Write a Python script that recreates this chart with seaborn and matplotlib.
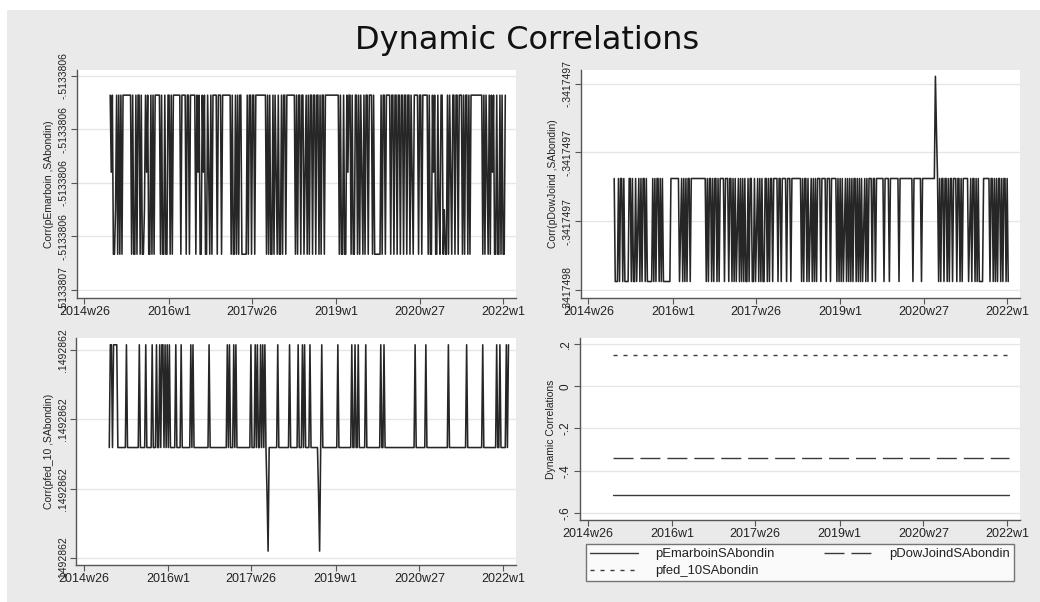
import numpy as np
import pandas as pd
import matplotlib
matplotlib.use("Agg")
import matplotlib.pyplot as plt
import seaborn as sns
from matplotlib.patches import Rectangle
from matplotlib.lines import Line2D

# ---------------- data ----------------
TITLE = "Dynamic Correlations"
X_TICK_LABELS = ["2014w26", "2016w1", "2017w26", "2019w1", "2020w27", "2022w1"]
START_WEEK = "2014w50"

# panel 1: Corr(pEmarboin ,SAbondin)  0 = low, 1 = high, 2/3 = in-between
P1_CODES = ("1210031010" "1011111111" "0100101101" "0031210010" "1011111010"
            "0100110101" "1111110111" "1011011111" "0121001210" "0120101111"
            "0111011111" "1110100101" "0110000010" "1101101111" "1111110101"
            "0010120100" "1011011111" "1110101101" "1021010110" "1101101011"
            "0111111111" "1111010010" "0121101001" "1010120101" "1011101000"
            "0001011011" "1101101101" "1011011011" "0120111101" "1011111010"
            "0121001301" "1030010120" "1101101110" "1011010111" "1111111101"
            "0120101210" "0100101001")
P1_LEVELS = {"0": -0.5133806833, "1": -0.5133806090,
             "2": -0.5133806450, "3": -0.5133806625}
P1_TICKS = [-0.51338070, -0.513380675, -0.51338065, -0.513380625, -0.51338060]
P1_TICK_LABELS = ["-.5133807", "-.5133806", "-.5133806", "-.5133806", "-.5133806"]
P1_YLABEL = "Corr(pEmarboin ,SAbondin)"

# panel 2: Corr(pDowJoind ,SAbondin)  0 = low, 1 = high, 4 = in-between, 2/3 = spike
P2_CODES = ("1000101101" "0000110100" "1041010110" "1000001010" "1101010000"
            "0001111111" "1041010101" "1011111111" "1111110101" "1010110101"
            "1110111011" "0101041010" "1010010110" "0104101010" "0110101101"
            "1110110111" "1011101111" "1111101011" "0104101010" "1110111101"
            "1101111101" "0101041010" "1010110101" "0104101011" "1011011111"
            "1101111011" "1111110111" "1111111110" "1111111011" "1111111111"
            "3210101101" "1010110111" "0110101111" "1041011010" "1000011111"
            "1011010101" "101011010")
P2_LEVELS = {"0": -0.3417497970, "1": -0.3417497595, "4": -0.3417497775,
             "2": -0.3417497425, "3": -0.3417497223}
P2_TICKS = [-0.34174980, -0.341749775, -0.34174975, -0.341749725]
P2_TICK_LABELS = ["-.3417498", "-.3417497", "-.3417497", "-.3417497"]
P2_YLABEL = "Corr(pDowJoind ,SAbondin)"

# panel 3: Corr(pfed_10 ,SAbondin)  2 = base, 3 = high, 1/0 = dips
P3_CODES = ("2332333322" "2222223222" "2222222232" "2222322222" "3222322323"
            "3232323222" "2232222322" "2222223232" "2222222222" "2223222222"
            "2222222222" "3232223232" "2222222222" "2232223232" "2323232102"
            "2222222322" "2222222232" "2222223222" "3232222322" "2222210232"
            "2222222222" "2223222222" "2222223223" "2232222223" "2222222222"
            "2223223222" "2222222222" "2222222222" "2222232222" "2222232222"
            "2222222222" "2222223222" "2222222222" "2223222222" "2222222232"
            "2222222222" "2322322222" "323")
P3_LEVELS = {"0": 0.1492861525, "1": 0.1492861735,
             "2": 0.1492861898, "3": 0.1492862268}
P3_TICKS = [0.14928615, 0.149286175, 0.14928620, 0.149286225]
P3_TICK_LABELS = [".1492862", ".1492862", ".1492862", ".1492862"]
P3_YLABEL = "Corr(pfed_10 ,SAbondin)"

# panel 4: average dynamic correlations
P4_NAMES = ["pEmarboinSAbondin", "pDowJoindSAbondin", "pfed_10SAbondin"]
P4_VALUES = [-0.5133806, -0.3417497, 0.1492862]
P4_TICKS = [-0.6, -0.4, -0.2, 0.0, 0.2]
P4_TICK_LABELS = ["-.6", "-.4", "-.2", "0", ".2"]
P4_YLABEL = "Dynamic Correlations"
P4_WEEKS = 370


def parse_week(s):
    y, w = s.split("w")
    return (int(y) - 1960) * 52 + int(w) - 1


def series(codes, levels):
    t0 = parse_week(START_WEEK)
    return pd.DataFrame({"week": t0 + np.arange(len(codes)),
                         "value": [levels[c] for c in codes]})


# ---------------- style ----------------
sns.set_style("white")
plt.rcParams["font.family"] = ["Liberation Sans", "DejaVu Sans"]
W, H = 1040, 602
fig = plt.figure(figsize=(W / 100, H / 100), dpi=100)
fig.patch.set_facecolor("white")
fig.add_artist(Rectangle((7 / W, 0), 1, (H - 10) / H, transform=fig.transFigure,
                         facecolor="#EAEAEA", edgecolor="none", zorder=-10))

XT = [parse_week(s) for s in X_TICK_LABELS]
XLIM = (2826, 3236)
AX_COLOR = "#555555"
LINE_COLOR = "#262626"


def rect(l, r, t, b):
    return [l / W, (H - b) / H, (r - l) / W, (b - t) / H]


def style_axes(ax, yticks, ylabels, ylim, ylabel):
    ax.set_facecolor("white")
    for s in ["top", "right"]:
        ax.spines[s].set_visible(False)
    for s in ["left", "bottom"]:
        ax.spines[s].set_color(AX_COLOR)
        ax.spines[s].set_linewidth(1.0)
    ax.set_xlim(*XLIM)
    ax.set_ylim(*ylim)
    ax.set_xticks(XT)
    ax.set_xticklabels(X_TICK_LABELS, fontsize=9, color="#222222")
    ax.set_yticks(yticks)
    ax.set_yticklabels(ylabels, rotation=90, va="center", fontsize=7.5,
                       color="#222222")
    ax.tick_params(axis="both", direction="out", length=4, width=0.8,
                   color=AX_COLOR, pad=2, left=True, bottom=True)
    ax.grid(axis="y", color="#E6E6E6", lw=1.0)
    ax.grid(axis="x", visible=False)
    ax.set_xlabel("")
    ax.set_ylabel(ylabel, fontsize=7.5, color="#222222", labelpad=3)


def ylim_from(ticks, lo_units, hi_units):
    step = ticks[1] - ticks[0]
    return (ticks[0] + lo_units * step, ticks[0] + hi_units * step)


panels = [
    (rect(77, 516, 70, 298), P1_CODES, P1_LEVELS, P1_TICKS, P1_TICK_LABELS,
     ylim_from(P1_TICKS, -0.15, 4.11), P1_YLABEL),
    (rect(581, 1020, 70, 298), P2_CODES, P2_LEVELS, P2_TICKS, P2_TICK_LABELS,
     ylim_from(P2_TICKS, -0.12, 3.2), P2_YLABEL),
    (rect(76, 516, 338, 565), P3_CODES, P3_LEVELS, P3_TICKS, P3_TICK_LABELS,
     ylim_from(P3_TICKS, -0.1, 3.17), P3_YLABEL),
]

for r, codes, levels, ticks, tlabels, ylim, ylabel in panels:
    ax = fig.add_axes(r)
    df = series(codes, levels)
    sns.lineplot(data=df, x="week", y="value", ax=ax, color=LINE_COLOR,
                 lw=1.15, estimator=None, sort=False)
    style_axes(ax, ticks, tlabels, ylim, ylabel)

# panel 4
ax4 = fig.add_axes(rect(580, 1020, 338, 520))
styles = [(None, "#3a3a3a"), ((14.4, 5.0), "#3a3a3a"), ((2.9, 4.3), "#3a3a3a")]
t0 = parse_week(START_WEEK)
handles = []
for name, val, (dash, col) in zip(P4_NAMES, P4_VALUES, styles):
    df = pd.DataFrame({"week": t0 + np.arange(P4_WEEKS),
                       "value": np.full(P4_WEEKS, val)})
    sns.lineplot(data=df, x="week", y="value", ax=ax4, color=col, lw=1.0,
                 estimator=None, sort=False)
    ln = ax4.get_lines()[-1]
    if dash is not None:
        ln.set_dashes(dash)
    h = Line2D([], [], color=col, lw=1.0)
    if dash is not None:
        h.set_dashes(dash)
    handles.append(h)
style_axes(ax4, P4_TICKS, P4_TICK_LABELS, (-0.633, 0.228), P4_YLABEL)
ax4.set_yticklabels(P4_TICK_LABELS, rotation=90, va="center", fontsize=8.5,
                    color="#222222")

order = [0, 2, 1]
leg = fig.legend([handles[i] for i in order], [P4_NAMES[i] for i in order],
                 loc="lower left",
                 bbox_to_anchor=(586 / W, (H - 581) / H, 428 / W, 38 / H),
                 mode="expand", ncol=2, borderaxespad=0, fontsize=9.4,
                 frameon=True, fancybox=False, handlelength=3.7,
                 handletextpad=1.3, labelspacing=0.35, borderpad=0.3,
                 columnspacing=2.0)
leg.get_frame().set_edgecolor(AX_COLOR)
leg.get_frame().set_linewidth(1.0)
leg.get_frame().set_facecolor("white")
for t in leg.get_texts():
    t.set_color("#222222")

fig.text(527 / W, (H - 41) / H, TITLE, ha="center", va="center",
         fontsize=23, color="#111111", family=["DejaVu Sans"])

fig.savefig("out.png", dpi=100, facecolor=fig.get_facecolor())
